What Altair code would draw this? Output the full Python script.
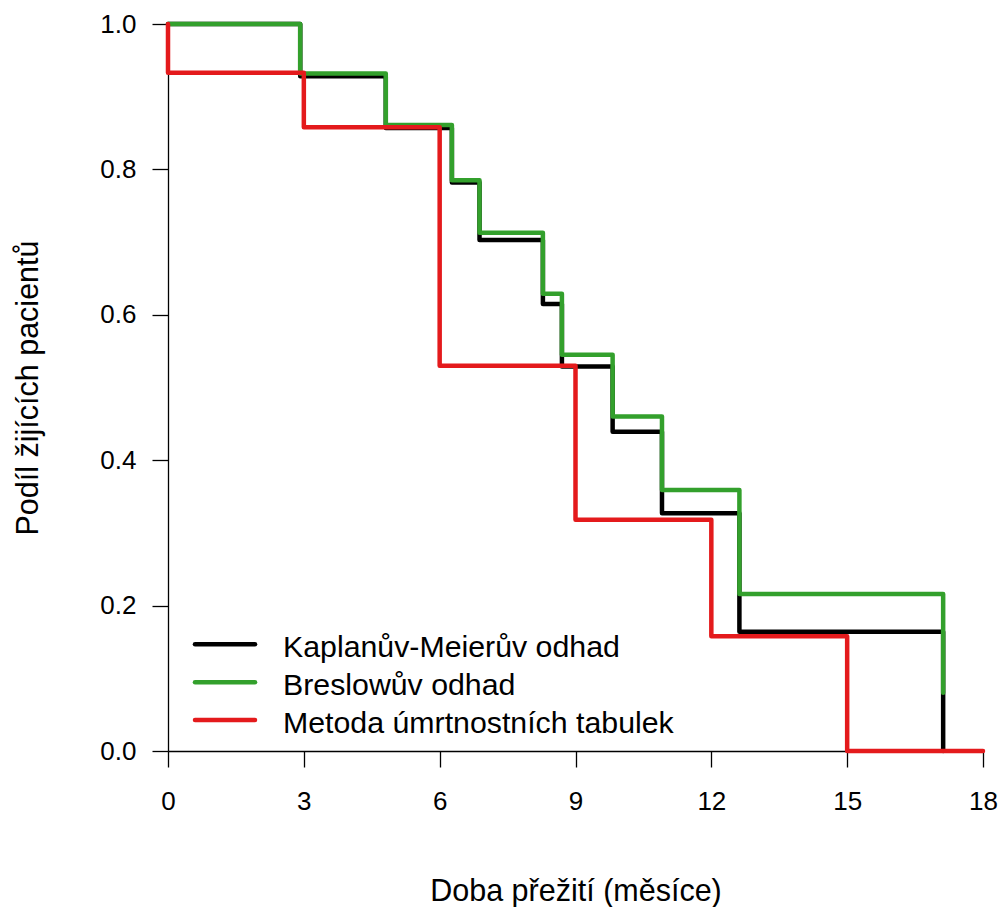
import altair as alt
import pandas as pd

# Kaplan-Meier estimate (black)
km_time = [0, 2.92, 4.81, 6.27, 6.88, 8.28, 8.70, 9.82, 10.91, 12.62, 17.12]
km_surv = [1.0, 0.928, 0.857, 0.782, 0.703, 0.615, 0.529, 0.439, 0.327, 0.164, 0.0]

# Breslow estimate (green)
br_time = [0, 2.92, 4.81, 6.27, 6.88, 8.28, 8.70, 9.82, 10.91, 12.62, 17.12]
br_surv = [1.0, 0.932, 0.861, 0.785, 0.713, 0.629, 0.545, 0.460, 0.359, 0.216, 0.080]

# Life-table method (red)
lt_time = [0, 0, 3, 6, 9, 12, 15, 18]
lt_surv = [1.0, 0.933, 0.858, 0.530, 0.318, 0.158, 0.0, 0.0]

series_names = ["Kaplanův-Meierův odhad", "Breslowův odhad", "Metoda úmrtnostních tabulek"]
series_colors = ["#000000", "#33A02C", "#E41A1C"]
series_data = [(km_time, km_surv), (br_time, br_surv), (lt_time, lt_surv)]

x_ticks = [0, 3, 6, 9, 12, 15, 18]
y_ticks = [0.0, 0.2, 0.4, 0.6, 0.8, 1.0]

FONT = "Liberation Sans"

xscale = alt.Scale(domain=[0, 18], nice=False, zero=False)
yscale = alt.Scale(domain=[0, 1], nice=False, zero=False)

xaxis = alt.Axis(values=x_ticks, title="Doba přežití (měsíce)", titleY=149,
                 titleBaseline="alphabetic", labelPadding=21, format="d",
                 labelFlush=False)
yaxis = alt.Axis(values=y_ticks, title="Podíl žijících pacientů", format=".1f",
                 titleX=-131, titleAngle=-90, titleBaseline="alphabetic",
                 labelPadding=16, labelFlush=False)

layers = []
for i, (name, color, (t, s)) in enumerate(zip(series_names, series_colors, series_data)):
    df = pd.DataFrame({"time": t, "surv": s, "idx": list(range(len(t)))})
    line = alt.Chart(df).mark_line(
        interpolate="step-after", color=color, strokeWidth=4.5,
        strokeCap="round", strokeJoin="round", clip=False
    ).encode(
        x=alt.X("time:Q", scale=xscale, axis=xaxis),
        y=alt.Y("surv:Q", scale=yscale, axis=yaxis),
        order=alt.Order("idx:Q"),
    )
    layers.append(line)

# legend (manual, lower-left inside the plot)
row_line_y = [620.3, 658.3, 696.0]
row_text_y = [632.7, 671.0, 708.7]
for i, (name, color) in enumerate(zip(series_names, series_colors)):
    d = pd.DataFrame({"label": [name]})
    layers.append(
        alt.Chart(d).mark_rule(color=color, strokeWidth=4.5, strokeCap="round").encode(
            x=alt.value(27), x2=alt.value(87), y=alt.value(row_line_y[i])
        )
    )
    layers.append(
        alt.Chart(d).mark_text(align="left", baseline="alphabetic", font=FONT,
                               fontSize=30.3, color="black").encode(
            x=alt.value(115), y=alt.value(row_text_y[i]), text="label:N"
        )
    )

chart = alt.layer(*layers).properties(
    width=815, height=727,
    padding={"left": 168, "top": 24, "right": 18, "bottom": 156},
    autosize="none",
    background="white",
).configure_view(stroke=None).configure_axis(
    grid=False,
    domainColor="black", domainWidth=1.3,
    tickColor="black", tickWidth=1.3, tickSize=16,
    labelFont=FONT, labelFontSize=26, labelColor="black",
    titleFont=FONT, titleFontSize=30.5, titleFontWeight="normal", titleColor="black",
)

chart.save("out.html", embed_options={"renderer": "svg", "actions": False})
